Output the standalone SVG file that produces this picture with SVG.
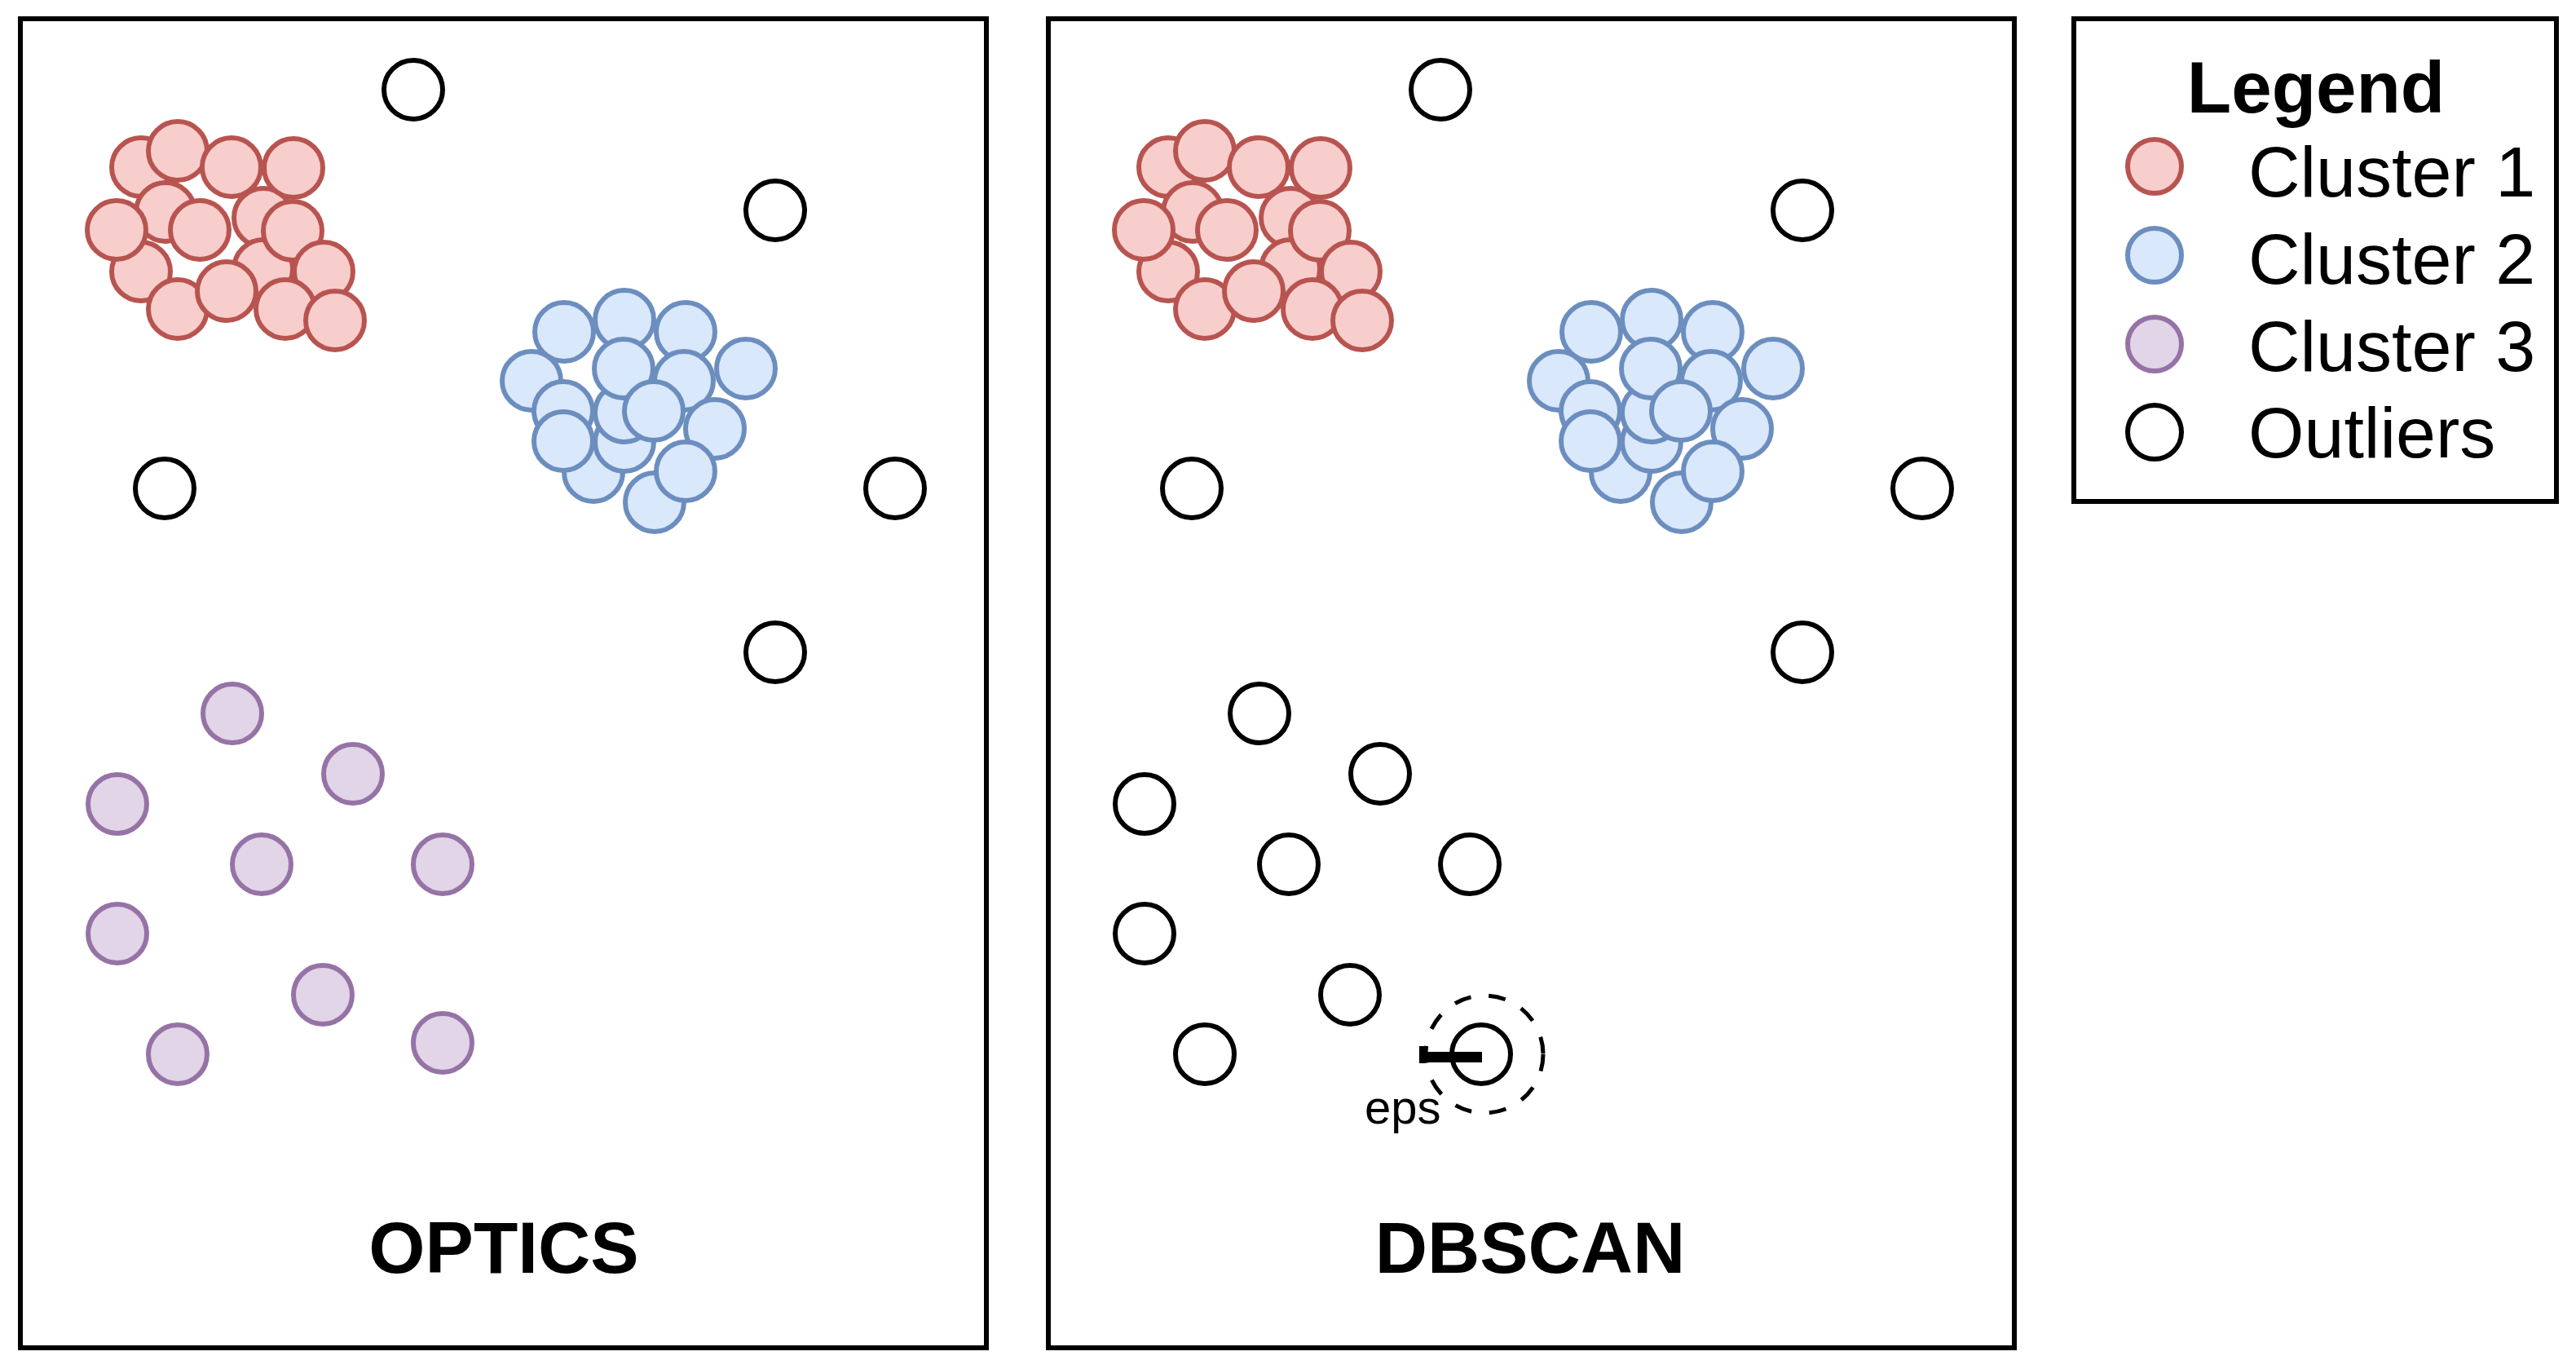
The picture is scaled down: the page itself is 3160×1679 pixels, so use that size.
<svg xmlns="http://www.w3.org/2000/svg" width="3160" height="1679" viewBox="0 0 3160 1679">
<style>
  .frame{fill:#ffffff;stroke:#000000;stroke-width:6}
  .c1{fill:#f8cecc;stroke:#b85450;stroke-width:6}
  .c2{fill:#dae8fc;stroke:#6c8ebf;stroke-width:6}
  .c3{fill:#e1d5e7;stroke:#9673a6;stroke-width:6}
  .out{fill:#ffffff;stroke:#000000;stroke-width:6}
  .title{font-family:"Liberation Sans",Arial,sans-serif;font-weight:bold;font-size:89px;fill:#000;text-anchor:middle}
  .leg{font-family:"Liberation Sans",Arial,sans-serif;font-size:88px;fill:#000}
  .eps{font-family:"Liberation Sans",Arial,sans-serif;font-size:58px;fill:#000}
  .dash{fill:none;stroke:#000;stroke-width:5;stroke-dasharray:21 22}
</style>
<defs>
  <g id="red">
    <circle class="c1" cx="173" cy="205" r="36"/>
    <circle class="c1" cx="203" cy="260" r="36"/>
    <circle class="c1" cx="323" cy="267" r="36"/>
    <circle class="c1" cx="173" cy="333" r="36"/>
    <circle class="c1" cx="323" cy="330" r="36"/>
    <circle class="c1" cx="218" cy="185" r="36"/>
    <circle class="c1" cx="284" cy="205" r="36"/>
    <circle class="c1" cx="360" cy="206" r="36"/>
    <circle class="c1" cx="143" cy="282" r="36"/>
    <circle class="c1" cx="245" cy="282" r="36"/>
    <circle class="c1" cx="359" cy="283" r="36"/>
    <circle class="c1" cx="218" cy="379" r="36"/>
    <circle class="c1" cx="278" cy="357" r="36"/>
    <circle class="c1" cx="397" cy="333" r="36"/>
    <circle class="c1" cx="350" cy="379" r="36"/>
    <circle class="c1" cx="411" cy="393" r="36"/>
  </g>
  <g id="blue">
    <circle class="c2" cx="652" cy="467" r="36"/>
    <circle class="c2" cx="692" cy="407" r="36"/>
    <circle class="c2" cx="766" cy="392" r="36"/>
    <circle class="c2" cx="841" cy="407" r="36"/>
    <circle class="c2" cx="691" cy="504" r="36"/>
    <circle class="c2" cx="728" cy="579" r="36"/>
    <circle class="c2" cx="766" cy="542" r="36"/>
    <circle class="c2" cx="766" cy="506" r="36"/>
    <circle class="c2" cx="765" cy="452" r="36"/>
    <circle class="c2" cx="839" cy="467" r="36"/>
    <circle class="c2" cx="915" cy="452" r="36"/>
    <circle class="c2" cx="691" cy="541" r="36"/>
    <circle class="c2" cx="802" cy="504" r="36"/>
    <circle class="c2" cx="877" cy="526" r="36"/>
    <circle class="c2" cx="803" cy="616" r="36"/>
    <circle class="c2" cx="841" cy="578" r="36"/>
  </g>
  <g id="outTop">
    <circle class="out" cx="507" cy="110" r="36"/>
    <circle class="out" cx="951" cy="258" r="36"/>
    <circle class="out" cx="202" cy="599" r="36"/>
    <circle class="out" cx="1098" cy="599" r="36"/>
    <circle class="out" cx="951" cy="800" r="36"/>
  </g>
</defs>

<g id="optics-panel">
  <rect class="frame" x="25" y="23" width="1185" height="1630"/>
  <use href="#red"/>
  <use href="#blue"/>
  <use href="#outTop"/>
  <g id="optics-cluster3">
    <circle class="c3" cx="285" cy="875" r="36"/>
    <circle class="c3" cx="433" cy="949" r="36"/>
    <circle class="c3" cx="144" cy="986" r="36"/>
    <circle class="c3" cx="321" cy="1060" r="36"/>
    <circle class="c3" cx="543" cy="1060" r="36"/>
    <circle class="c3" cx="144" cy="1145" r="36"/>
    <circle class="c3" cx="396" cy="1220" r="36"/>
    <circle class="c3" cx="218" cy="1293" r="36"/>
    <circle class="c3" cx="543" cy="1279" r="36"/>
  </g>
  <text class="title" x="618" y="1561">OPTICS</text>
</g>

<g id="dbscan-panel">
  <rect class="frame" x="1286" y="23" width="1185" height="1630"/>
  <use href="#red" transform="translate(1260,0)"/>
  <use href="#blue" transform="translate(1260,0)"/>
  <use href="#outTop" transform="translate(1260,0)"/>
  <g id="dbscan-noise">
    <circle class="out" cx="1545" cy="875" r="36"/>
    <circle class="out" cx="1693" cy="949" r="36"/>
    <circle class="out" cx="1404" cy="986" r="36"/>
    <circle class="out" cx="1581" cy="1060" r="36"/>
    <circle class="out" cx="1803" cy="1060" r="36"/>
    <circle class="out" cx="1404" cy="1145" r="36"/>
    <circle class="out" cx="1656" cy="1220" r="36"/>
    <circle class="out" cx="1478" cy="1293" r="36"/>
  </g>
  <g id="eps-node">
    <circle class="dash" cx="1821" cy="1293" r="72"/>
    <circle class="out" cx="1817" cy="1293" r="36"/>
    <text class="eps" x="1674" y="1378">eps</text>
  </g>
  <text class="title" x="1877" y="1561">DBSCAN</text>
</g>

<g id="connectors">
  <rect x="1741" y="1290" width="77" height="13" fill="#000"/>
  <rect x="1741" y="1283" width="7" height="21" fill="#000"/>
</g>

<g id="legend">
  <rect class="frame" x="2544" y="23" width="592" height="592"/>
  <text class="title" x="2841" y="138">Legend</text>
  <g id="legend-c1"><circle class="c1" cx="2643" cy="204" r="33"/><text class="leg" x="2758" y="241">Cluster 1</text></g>
  <g id="legend-c2"><circle class="c2" cx="2643" cy="313" r="33"/><text class="leg" x="2758" y="348">Cluster 2</text></g>
  <g id="legend-c3"><circle class="c3" cx="2643" cy="422" r="33"/><text class="leg" x="2758" y="455">Cluster 3</text></g>
  <g id="legend-out"><circle class="out" cx="2643" cy="530" r="33"/><text class="leg" x="2758" y="561">Outliers</text></g>
</g>
</svg>
